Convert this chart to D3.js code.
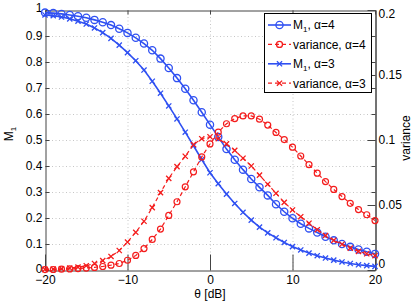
<!DOCTYPE html>
<html>
<head>
<meta charset="utf-8">
<script src="https://cdn.jsdelivr.net/npm/d3@7"></script>
<style>
  body { margin: 0; background: #fff; }
  text { font-family: "Liberation Sans", Arial, sans-serif; fill: #000; }
</style>
</head>
<body>
<div id="chart"></div>
<script>
var WIDTH = 415
var HEIGHT = 303

// theta in dB
var theta = [-20,-19,-18,-17,-16,-15,-14,-13,-12,-11,-10,-9,-8,-7,-6,-5,-4,-3,-2,-1,0,
             1,2,3,4,5,6,7,8,9,10,11,12,13,14,15,16,17,18,19,20]

var m1Alpha4 = [0.990,0.988,0.985,0.981,0.976,0.970,0.962,0.953,0.942,0.928,0.912,0.893,0.871,0.845,0.813,0.777,0.738,0.697,0.653,0.607,0.559,
                0.512,0.465,0.424,0.386,0.350,0.318,0.287,0.253,0.224,0.199,0.178,0.160,0.144,0.128,0.114,0.100,0.089,0.079,0.070,0.062]
var varAlpha4 = [0.0003,0.0004,0.0006,0.0008,0.0011,0.0015,0.0020,0.0027,0.0037,0.0050,0.0075,0.0112,0.0165,0.0235,0.0315,0.0420,0.0525,0.0640,0.0755,0.0870,0.0970,
                 0.1060,0.1125,0.1165,0.1185,0.1185,0.1160,0.1115,0.1058,0.1003,0.0945,0.0877,0.0810,0.0745,0.0680,0.0620,0.0565,0.0513,0.0465,0.0425,0.0380]
var m1Alpha3 = [0.981,0.978,0.973,0.966,0.957,0.946,0.931,0.913,0.891,0.865,0.836,0.805,0.769,0.726,0.680,0.631,0.581,0.530,0.478,0.425,0.374,
                0.332,0.292,0.256,0.222,0.192,0.165,0.143,0.124,0.106,0.090,0.077,0.065,0.055,0.046,0.038,0.031,0.025,0.020,0.017,0.014]
var varAlpha3 = [0.0005,0.0007,0.0010,0.0015,0.0022,0.0033,0.0050,0.0072,0.0104,0.0150,0.0215,0.0290,0.0375,0.0480,0.0595,0.0705,0.0795,0.0875,0.0965,0.1010,0.1025,
                 0.1010,0.0970,0.0920,0.0860,0.0800,0.0730,0.0660,0.0590,0.0520,0.0462,0.0410,0.0360,0.0310,0.0265,0.0228,0.0198,0.0168,0.0143,0.0125,0.0110]

var xTicks = [-20,-10,0,10,20]
var yLeftTicks = [0,0.1,0.2,0.3,0.4,0.5,0.6,0.7,0.8,0.9,1]
var yRightTicks = [0,0.05,0.1,0.15,0.2]
var legendLabels = ["M1, \u03b1=4","variance, \u03b1=4","M1, \u03b1=3","variance, \u03b1=3"]

var blue = "#2f50f2"
var red = "#f41c1c"

var svg = d3.select("#chart").append("svg")
  .attr("width", WIDTH)
  .attr("height", HEIGHT)

var x = d3.scaleLinear().domain([-20, 20]).range([45, 375])
var yL = d3.scaleLinear().domain([0, 1]).range([270, 10])
var yR = d3.scaleLinear().domain([0, 0.2]).range([270, 10])

// grid
var grid = svg.append("g").attr("stroke", "#b8b8b8").attr("stroke-dasharray", "1,2.5").attr("stroke-width", 0.8)
grid.selectAll(".gx").data(xTicks.slice(1, -1)).enter().append("line")
  .attr("x1", d => x(d) + 0.5).attr("x2", d => x(d) + 0.5)
  .attr("y1", 10).attr("y2", 270)
grid.selectAll(".gy").data(yLeftTicks.slice(1, -1)).enter().append("line")
  .attr("x1", 45).attr("x2", 375)
  .attr("y1", d => Math.round(yL(d)) + 0.5).attr("y2", d => Math.round(yL(d)) + 0.5)

// axes
var axisColor = "#444"
var gBottom = svg.append("g").attr("transform", "translate(0,270.5)")
  .call(d3.axisBottom(x).tickValues(xTicks).tickFormat(d3.format("d")).tickSizeInner(-16).tickSizeOuter(0).tickPadding(3))
var gTop = svg.append("g").attr("transform", "translate(0,10.5)")
  .call(d3.axisTop(x).tickValues(xTicks).tickFormat("").tickSizeInner(-4).tickSizeOuter(0))
var gLeft = svg.append("g").attr("transform", "translate(45.5,0)")
  .call(d3.axisLeft(yL).tickValues(yLeftTicks).tickFormat(d => d === 0 || d === 1 ? d : d3.format(".1f")(d)).tickSizeInner(-4).tickSizeOuter(0).tickPadding(3))
var gRightL = svg.append("g").attr("transform", "translate(375.5,0)")
  .call(d3.axisRight(yL).tickValues(yLeftTicks).tickFormat("").tickSizeInner(-4).tickSizeOuter(0))
var gRight = svg.append("g").attr("transform", "translate(375.5,0)")
  .call(d3.axisRight(yR).tickValues(yRightTicks).tickFormat(d => d === 0 ? "0" : String(d)).tickSizeInner(-8).tickSizeOuter(0).tickPadding(3))

;[gBottom, gTop, gLeft, gRightL, gRight].forEach(function(g) {
  g.select(".domain").attr("stroke", axisColor)
  g.selectAll(".tick line").attr("stroke", axisColor)
  g.selectAll("text").attr("font-size", 12).attr("fill", "#000")
    .attr("font-family", "Liberation Sans, Arial, sans-serif")
})
gBottom.selectAll(".tick text").attr("dy", "0.85em")
gLeft.selectAll(".tick text").filter(d => d === 1).attr("dy", "0.1em")
gLeft.selectAll(".tick text").filter(d => d === 0).attr("dy", "0.2em")
gRight.selectAll(".tick text").filter(d => d === 0).attr("dy", "-0.2em")
gRight.selectAll(".tick text").filter(d => d === 0.2).attr("dy", "0.6em")

// series
function drawSeries(vals, yScale, color, marker, dashed, width) {
  var pts = theta.map((t, i) => [x(t), yScale(vals[i])])
  var line = d3.line()
  svg.append("path")
    .attr("d", line(pts))
    .attr("fill", "none")
    .attr("stroke", color)
    .attr("stroke-width", width)
    .attr("stroke-dasharray", dashed ? "4,3" : null)
  var g = svg.append("g")
  if (marker === "o") {
    g.selectAll("circle").data(pts).enter().append("circle")
      .attr("cx", d => d[0]).attr("cy", d => d[1])
      .attr("r", dashed ? 3 : 3.6)
      .attr("fill", "none").attr("stroke", color).attr("stroke-width", dashed ? 1.2 : 1.3)
  } else {
    var s = 2.6
    g.selectAll("path").data(pts).enter().append("path")
      .attr("d", d => "M" + (d[0] - s) + "," + (d[1] - s) + "L" + (d[0] + s) + "," + (d[1] + s) +
                      "M" + (d[0] - s) + "," + (d[1] + s) + "L" + (d[0] + s) + "," + (d[1] - s))
      .attr("stroke", color).attr("stroke-width", 1.3)
  }
}

drawSeries(m1Alpha4, yL, blue, "o", false, 1.6)
drawSeries(m1Alpha3, yL, blue, "x", false, 1.6)
drawSeries(varAlpha4, yR, red, "o", true, 1.2)
drawSeries(varAlpha3, yR, red, "x", true, 1.2)

// axis labels
svg.append("text")
  .attr("transform", "translate(13,134) rotate(-90)")
  .attr("text-anchor", "middle")
  .attr("font-size", 12)
  .text("M")
  .append("tspan").attr("font-size", 8).attr("dy", 3).text("1")
svg.append("text")
  .attr("transform", "translate(410,138) rotate(-90)")
  .attr("text-anchor", "middle")
  .attr("font-size", 12)
  .text("variance")
svg.append("text")
  .attr("x", 210).attr("y", 298)
  .attr("text-anchor", "middle")
  .attr("font-size", 12)
  .text("\u03b8 [dB]")

// legend
var legend = svg.append("g")
legend.append("rect")
  .attr("x", 264.5).attr("y", 13.5).attr("width", 107).attr("height", 79)
  .attr("fill", "#fff").attr("stroke", "#000").attr("stroke-width", 1)
var legendStyle = [
  {color: blue, marker: "o", dashed: false},
  {color: red, marker: "o", dashed: true},
  {color: blue, marker: "x", dashed: false},
  {color: red, marker: "x", dashed: true}
]
legendLabels.forEach(function(lbl, i) {
  var cy = 25 + i * 19.4
  var st = legendStyle[i]
  legend.append("line")
    .attr("x1", 268).attr("x2", 291).attr("y1", cy).attr("y2", cy)
    .attr("stroke", st.color).attr("stroke-width", st.dashed ? 1.2 : 1.6)
    .attr("stroke-dasharray", st.dashed ? "4,3" : null)
  if (st.marker === "o") {
    legend.append("circle").attr("cx", 279.5).attr("cy", cy).attr("r", st.dashed ? 3 : 3.6)
      .attr("fill", "none").attr("stroke", st.color).attr("stroke-width", 1.3)
  } else {
    var s = 2.6
    legend.append("path")
      .attr("d", "M" + (279.5 - s) + "," + (cy - s) + "L" + (279.5 + s) + "," + (cy + s) +
                 "M" + (279.5 - s) + "," + (cy + s) + "L" + (279.5 + s) + "," + (cy - s))
      .attr("stroke", st.color).attr("stroke-width", 1.3)
  }
  var t = legend.append("text").attr("x", 293).attr("y", cy + 4.3).attr("font-size", 12)
  if (lbl.indexOf("M1") === 0) {
    t.append("tspan").text("M")
    t.append("tspan").attr("font-size", 8).attr("dy", 3).text("1")
    t.append("tspan").attr("dy", -3).text(lbl.slice(2))
  } else {
    t.text(lbl)
  }
})
</script>
</body>
</html>
